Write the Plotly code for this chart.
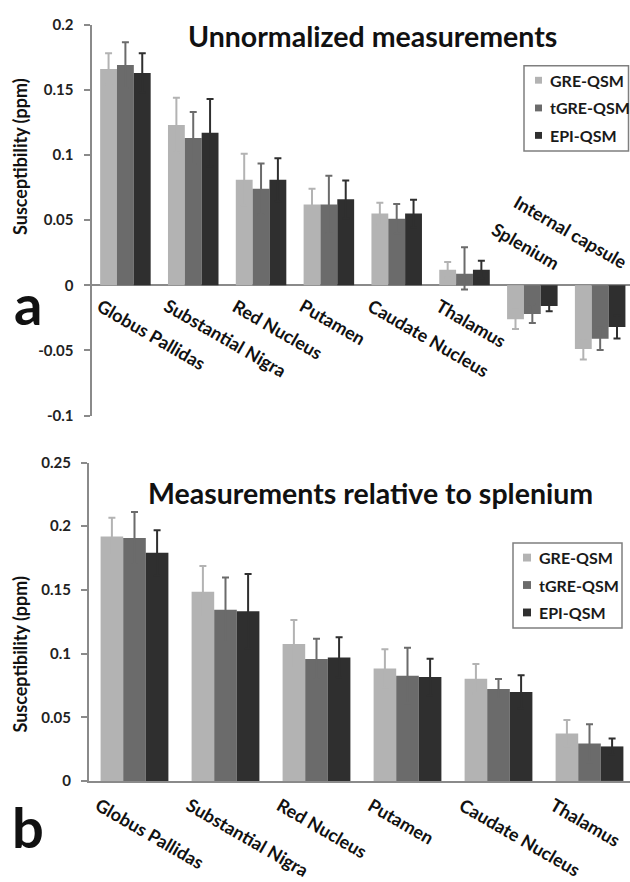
import plotly.graph_objects as go

W, H = 630, 882
FONT = "Lato"

# ---------------- data ----------------
categories_top = ["Globus Pallidas", "Substantial Nigra", "Red Nucleus", "Putamen",
                  "Caudate Nucleus", "Thalamus", "Splenium", "Internal capsule"]
gre_top = [0.166, 0.123, 0.081, 0.062, 0.055, 0.012, -0.026, -0.049]
gre_top_err = [0.012, 0.021, 0.020, 0.012, 0.0083, 0.0058, 0.0075, 0.008]
tgre_top = [0.169, 0.113, 0.074, 0.062, 0.051, 0.0088, -0.022, -0.041]
tgre_top_err = [0.0175, 0.020, 0.0195, 0.022, 0.0113, 0.0203, 0.007, 0.0087]
tgre_top_err_minus = [0.0175, 0.020, 0.0195, 0.022, 0.0113, 0.012, 0.007, 0.0087]
epi_top = [0.163, 0.117, 0.081, 0.066, 0.055, 0.012, -0.016, -0.032]
epi_top_err = [0.015, 0.026, 0.0165, 0.0145, 0.0107, 0.0068, 0.004, 0.0088]

categories_bottom = ["Globus Pallidas", "Substantial Nigra", "Red Nucleus", "Putamen",
                     "Caudate Nucleus", "Thalamus"]
gre_bottom = [0.192, 0.1485, 0.1075, 0.0883, 0.0803, 0.0373]
gre_bottom_err = [0.0146, 0.0202, 0.0189, 0.0151, 0.0116, 0.0105]
tgre_bottom = [0.1907, 0.1344, 0.0957, 0.0826, 0.0722, 0.0294]
tgre_bottom_err = [0.0205, 0.0253, 0.0159, 0.0219, 0.0079, 0.0151]
epi_bottom = [0.1792, 0.1333, 0.097, 0.0816, 0.0699, 0.0271]
epi_bottom_err = [0.0176, 0.0292, 0.0159, 0.0144, 0.013, 0.0062]

series_names = ["GRE-QSM", "tGRE-QSM", "EPI-QSM"]
colors = ["#b3b3b3", "#6b6b6b", "#2f2f2f"]

top_ticks = [-0.1, -0.05, 0, 0.05, 0.1, 0.15, 0.2]
top_ticklabels = ["-0.1", "-0.05", "0", "0.05", "0.1", "0.15", "0.2"]
bottom_ticks = [0, 0.05, 0.1, 0.15, 0.2, 0.25]
bottom_ticklabels = ["0", "0.05", "0.1", "0.15", "0.2", "0.25"]


def px(x):
    return x / W


def py(y):
    return 1 - y / H


fig = go.Figure()

top_vals = [gre_top, tgre_top, epi_top]
top_errs = [gre_top_err, tgre_top_err, epi_top_err]
top_errs_minus = [gre_top_err, tgre_top_err_minus, epi_top_err]
for name, col, v, e, em in zip(series_names, colors, top_vals, top_errs, top_errs_minus):
    fig.add_trace(go.Bar(
        x=list(range(len(categories_top))), y=v, name=name, marker=dict(color=col, line=dict(width=0)),
        error_y=dict(type="data", array=e, arrayminus=em, symmetric=False, color=col, thickness=2, width=3.5),
        xaxis="x", yaxis="y", showlegend=False))

bottom_vals = [gre_bottom, tgre_bottom, epi_bottom]
bottom_errs = [gre_bottom_err, tgre_bottom_err, epi_bottom_err]
for name, col, v, e in zip(series_names, colors, bottom_vals, bottom_errs):
    fig.add_trace(go.Bar(
        x=list(range(len(categories_bottom))), y=v, name=name, marker=dict(color=col, line=dict(width=0)),
        error_y=dict(type="data", array=e, color=col, thickness=2, width=3.5),
        xaxis="x2", yaxis="y2", showlegend=False))

axis_grey = "#8a8a8a"
tickfont = dict(family=FONT, size=15, color="#222222", weight="bold")

fig.update_layout(
    width=W, height=H, margin=dict(l=0, r=0, t=0, b=0),
    paper_bgcolor="white", plot_bgcolor="white",
    barmode="group", bargap=0.255, bargroupgap=0,
    font=dict(family=FONT, color="#1a1a1a"),
    xaxis=dict(domain=[px(91.5), 1], range=[-0.5, 7.44], showticklabels=False, showline=False,
               showgrid=False, zeroline=False, ticks="", anchor="y"),
    yaxis=dict(domain=[py(414), py(15)], range=[-0.1, 0.2], tickvals=top_ticks, ticktext=top_ticklabels,
               showline=True, linecolor=axis_grey, linewidth=2, ticks="outside", ticklen=6,
               tickcolor=axis_grey, tickwidth=2, showgrid=False, zeroline=True, zerolinecolor=axis_grey,
               zerolinewidth=2, tickfont=tickfont, ticklabelstandoff=7, anchor="x"),
    xaxis2=dict(domain=[px(89), 1], range=[-0.5, 5.445], showticklabels=False, showline=True,
                linecolor=axis_grey, linewidth=2, showgrid=False, zeroline=False, ticks="", anchor="y2"),
    yaxis2=dict(domain=[py(787), py(462)], range=[0, 0.25], tickvals=bottom_ticks, ticktext=bottom_ticklabels,
                showline=True, linecolor=axis_grey, linewidth=2, ticks="outside", ticklen=6,
                tickcolor=axis_grey, tickwidth=2, showgrid=False, zeroline=False, tickfont=tickfont,
                ticklabelstandoff=7, anchor="x2"),
)

ann = []
labfont = dict(family=FONT, size=18, color="#111111")
# category labels, top chart
for i, c in enumerate(categories_top):
    if top_vals[0][i] >= 0:
        ann.append(dict(x=i, y=0, xref="x", yref="y", text="<b>%s</b>" % c, textangle=30, showarrow=False,
                        xanchor="left", yanchor="top", xshift=-35, yshift=-6, font=labfont))
    else:
        ann.append(dict(x=i, y=0, xref="x", yref="y", text="<b>%s</b>" % c, textangle=30, showarrow=False,
                        xanchor="right", yanchor="bottom", xshift=34, yshift=9, font=labfont))
for i, c in enumerate(categories_bottom):
    ann.append(dict(x=i, y=0, xref="x2", yref="y2", text="<b>%s</b>" % c, textangle=30, showarrow=False,
                    xanchor="left", yanchor="top", xshift=-46, yshift=-10, font=labfont))

# titles
ann.append(dict(x=px(372), y=py(27), xref="paper", yref="paper", text="<b>Unnormalized measurements</b>",
                showarrow=False, xanchor="center", yanchor="middle", font=dict(family=FONT, size=28.5, color="#111111")))
ann.append(dict(x=px(370), y=py(493), xref="paper", yref="paper", text="<b>Measurements relative to splenium</b>",
                showarrow=False, xanchor="center", yanchor="middle", font=dict(family=FONT, size=28.5, color="#111111")))
# y axis titles
for yc in (150, 658):
    ann.append(dict(x=px(20), y=py(yc), xref="paper", yref="paper", text="<b>Susceptibility (ppm)</b>",
                    textangle=-90, showarrow=False, xanchor="center", yanchor="middle",
                    font=dict(family=FONT, size=18, color="#111111")))
# panel letters
ann.append(dict(x=px(28), y=py(300), xref="paper", yref="paper", text="<b>a</b>", showarrow=False,
                xanchor="center", yanchor="middle", font=dict(family=FONT, size=56, color="#111111")))
ann.append(dict(x=px(28), y=py(834), xref="paper", yref="paper", text="<b>b</b>", showarrow=False,
                xanchor="center", yanchor="middle", font=dict(family=FONT, size=56, color="#111111")))

# legends (drawn manually)
shapes = []
legends = [
    dict(box=(524, 57, 628.5, 144), sq_x=(535, 542), text_x=548, ys=[71.7, 100, 128]),
    dict(box=(513, 544, 622, 631), sq_x=(523, 531), text_x=537, ys=[559, 587, 615]),
]
for lg in legends:
    x0, y0, x1, y1 = lg["box"]
    shapes.append(dict(type="rect", xref="paper", yref="paper", x0=px(x0), x1=px(x1), y0=py(y0), y1=py(y1),
                       line=dict(color="#7f7f7f", width=1.5), fillcolor="rgba(0,0,0,0)"))
    for name, col, yy in zip(series_names, colors, lg["ys"]):
        sx0, sx1 = lg["sq_x"]
        h = (sx1 - sx0) / 2
        shapes.append(dict(type="rect", xref="paper", yref="paper", x0=px(sx0), x1=px(sx1),
                           y0=py(yy - h), y1=py(yy + h), line=dict(width=0), fillcolor=col))
        ann.append(dict(x=px(lg["text_x"]), y=py(yy), xref="paper", yref="paper", text="<b>%s</b>" % name,
                        showarrow=False, xanchor="left", yanchor="middle",
                        font=dict(family=FONT, size=16, color="#1a1a1a")))

fig.update_layout(annotations=ann, shapes=shapes)
fig.write_html("out.html", config={"displayModeBar": False},
               post_script="document.body.style.margin='0';document.body.style.overflow='hidden';")
